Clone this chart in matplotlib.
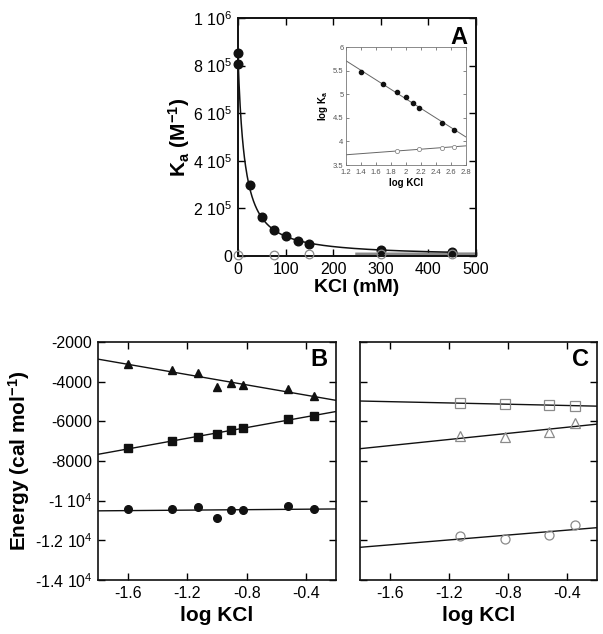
import numpy as np
import matplotlib; matplotlib.use("Agg")
import matplotlib.pyplot as plt

plt.rcParams["font.family"] = ["Liberation Sans", "DejaVu Sans"]
plt.rcParams["mathtext.fontset"] = "custom"
plt.rcParams["mathtext.rm"] = "Liberation Sans"
plt.rcParams["mathtext.bf"] = "Liberation Sans:bold"
plt.rcParams["mathtext.default"] = "regular"

INK, GRY = "#111111", "#8a8a8a"

# ---- panel A: Ka vs KCl (mM) ----
kcl_filled = [0, 0, 25, 50, 75, 100, 125, 150, 300, 450]
ka_filled = [8.55e5, 8.05e5, 3.0e5, 1.65e5, 1.1e5, 8.4e4, 6.3e4, 4.9e4, 2.5e4, 1.7e4]
kcl_open = [0, 75, 150, 300, 450]
ka_open = [6.0e3, 6.3e3, 6.8e3, 7.4e3, 7.8e3]

# inset: log Ka vs log KCl
logkcl_filled = [1.40, 1.70, 1.88, 2.00, 2.10, 2.18, 2.48, 2.65]
logka_filled = [5.47, 5.23, 5.06, 4.94, 4.81, 4.72, 4.40, 4.24]
logkcl_open = [1.88, 2.18, 2.48, 2.65]
logka_open = [3.80, 3.83, 3.87, 3.89]

# ---- panels B, C: energies vs log KCl ----
logx_b = [-1.60, -1.30, -1.125, -1.00, -0.903, -0.824, -0.523, -0.347]
b_tri = [-3100, -3410, -3580, -4280, -4050, -4180, -4385, -4735]
b_sq = [-7360, -6990, -6790, -6620, -6450, -6350, -5900, -5710]
b_circ = [-10430, -10430, -10330, -10870, -10480, -10480, -10260, -10430]

logx_c = [-1.125, -0.824, -0.523, -0.347]
c_sq = [-5090, -5125, -5190, -5210]
c_tri = [-6720, -6800, -6535, -6080]
c_circ = [-11790, -11920, -11740, -11250]


def style(ax, lw=1.2):
    ax.tick_params(direction="in", top=True, right=True, length=5, width=1,
                   labelsize=11.5, pad=4)
    for sp in ax.spines.values():
        sp.set_linewidth(lw); sp.set_color(INK)


def sci(v, pos):
    if v == 0:
        return "0"
    e = int(np.floor(np.log10(abs(v))))
    m = v / 10 ** e
    return f"{m:g} 10$^{{{e}}}$"


def fit_line(ax, x, y, xlim, **kw):
    p = np.polyfit(x, y, 1)
    xx = np.array(xlim)
    ax.plot(xx, np.polyval(p, xx), **kw)


fig = plt.figure(figsize=(6.03, 6.34), dpi=100)

# ---- A ----
axA = fig.add_axes([0.3947, 0.5962, 0.3947, 0.3754])
# power-law-with-offset fit K = a/(x+b)^n, b chosen by grid search
xf, yf = np.array(kcl_filled, float), np.log(ka_filled)
best = None
for b in np.linspace(2, 80, 400):
    p = np.polyfit(np.log(xf + b), yf, 1)
    r = np.sum((np.polyval(p, np.log(xf + b)) - yf) ** 2)
    if best is None or r < best[0]:
        best = (r, b, p)
_, b0, p0 = best
xs = np.linspace(0, 450, 400)
axA.plot(xs, np.exp(np.polyval(p0, np.log(xs + b0))), color=INK, lw=1.1, zorder=3)
po = np.polyfit(logkcl_open, logka_open, 1)
xo = np.linspace(250, 500, 50)
axA.plot(xo, 10 ** np.polyval(po, np.log10(xo)), color=GRY, lw=2.5, zorder=2, clip_on=False)
axA.plot(kcl_filled, ka_filled, "o", color=INK, ms=6.2, zorder=4, clip_on=False)
axA.plot(kcl_open, ka_open, "o", mfc="none", mec=GRY, mew=0.9, ms=6.2, zorder=4, clip_on=False)
axA.set_xlim(0, 500); axA.set_ylim(0, 1e6)
axA.set_xticks(range(0, 501, 100))
axA.set_yticks(np.arange(0, 1.01e6, 2e5))
axA.yaxis.set_major_formatter(plt.FuncFormatter(sci))
style(axA, 1.4)
axA.set_xlabel("KCl (mM)", fontsize=14, fontweight="bold", labelpad=2)
axA.set_ylabel("K$_{a}$ (M$^{-1}$)", fontsize=15, fontweight="bold", labelpad=1)
axA.text(0.965, 0.965, "A", transform=axA.transAxes, ha="right", va="top",
         fontsize=17, fontweight="bold")

# inset
axI = fig.add_axes([0.5733, 0.7397, 0.199, 0.1857])
fit_line(axI, logkcl_filled, logka_filled, (1.2, 2.8), color="#666666", lw=0.7)
fit_line(axI, logkcl_open, logka_open, (1.2, 2.8), color="#666666", lw=0.7)
axI.plot(logkcl_filled, logka_filled, "o", color=INK, ms=3)
axI.plot(logkcl_open, logka_open, "o", mfc="white", mec=GRY, mew=0.6, ms=3)
axI.set_xlim(1.2, 2.8); axI.set_ylim(3.5, 6)
xt = np.round(np.arange(1.2, 2.81, 0.2), 1)
axI.set_xticks(xt)
axI.set_xticklabels([f"{v:g}" for v in xt])
yt = np.arange(3.5, 6.01, 0.5)
axI.set_yticks(yt)
axI.set_yticklabels([f"{v:g}" for v in yt])
axI.tick_params(direction="in", top=True, right=True, length=2.5, width=0.5,
                labelsize=5.5, colors="#555555")
axI.tick_params(axis="x", pad=2.5)
axI.tick_params(axis="y", pad=1.5)
for sp in axI.spines.values():
    sp.set_linewidth(0.6); sp.set_color("#777777")
axI.set_xlabel("log KCl", fontsize=7, fontweight="bold", labelpad=2)
axI.set_ylabel("log K$_{a}$", fontsize=7, fontweight="bold", labelpad=2)

# ---- B ----
xl = (-1.8, -0.2)
axB = fig.add_axes([0.1625, 0.0852, 0.3947, 0.3754])
for y, mk in [(b_tri, "^"), (b_sq, "s"), (b_circ, "o")]:
    fit_line(axB, logx_b, y, xl, color=INK, lw=1)
    axB.plot(logx_b, y, mk, color=INK, ms=5.5)
axB.set_xlim(*xl); axB.set_ylim(-14000, -2000)
axB.set_xticks([-1.6, -1.2, -0.8, -0.4])
axB.set_xticklabels(["-1.6", "-1.2", "-0.8", "-0.4"])
axB.set_yticks(np.arange(-14000, -1999, 2000))
axB.set_yticklabels(["-1.4 10$^{4}$", "-1.2 10$^{4}$", "-1 10$^{4}$",
                     "-8000", "-6000", "-4000", "-2000"])
style(axB)
axB.set_xlabel("log KCl", fontsize=15, fontweight="bold", labelpad=4)
axB.set_ylabel("Energy (cal mol$^{-1}$)", fontsize=15, fontweight="bold", labelpad=2)
axB.text(0.965, 0.975, "B", transform=axB.transAxes, ha="right", va="top",
         fontsize=17, fontweight="bold")

# ---- C ----
axC = fig.add_axes([0.597, 0.0852, 0.393, 0.3754])
for y, mk in [(c_sq, "s"), (c_tri, "^"), (c_circ, "o")]:
    fit_line(axC, logx_c, y, xl, color=INK, lw=1)
    axC.plot(logx_c, y, mk, mfc="none", mec=GRY, mew=0.9, ms=6.5)
axC.set_xlim(*xl); axC.set_ylim(-14000, -2000)
axC.set_xticks([-1.6, -1.2, -0.8, -0.4])
axC.set_xticklabels(["-1.6", "-1.2", "-0.8", "-0.4"])
axC.set_yticks(np.arange(-14000, -1999, 2000))
style(axC)
axC.set_yticklabels([])
axC.set_xlabel("log KCl", fontsize=15, fontweight="bold", labelpad=4)
axC.text(0.965, 0.975, "C", transform=axC.transAxes, ha="right", va="top",
         fontsize=17, fontweight="bold")

fig.savefig("out.png", dpi=100, facecolor="white")
